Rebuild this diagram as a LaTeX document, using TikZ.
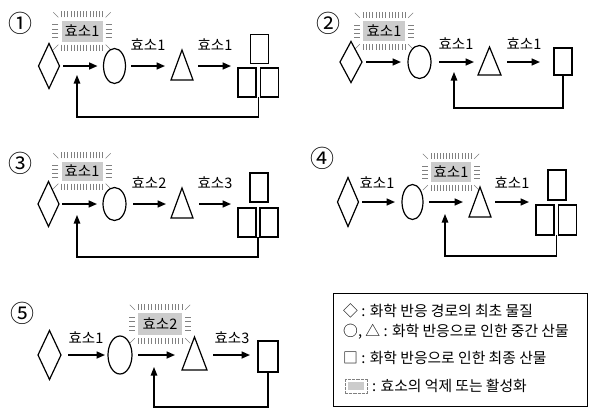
\documentclass[tikz,border=0pt]{standalone}
\usepackage{fontspec}
\newfontfamily\kr{Noto Sans CJK KR}
\usetikzlibrary{shapes.geometric,arrows.meta,calc}
\newcommand\glowticks[1]{%
  \foreach \i in {0,...,13}{%
    \draw[tick] ($(#1.north west)!\i/13!(#1.north east)+(0,-3)$) -- ++(0,-6);
    \draw[tick] ($(#1.south west)!\i/13!(#1.south east)+(0,3)$) -- ++(0,6);
  }
  \foreach \i in {1,...,4}{%
    \draw[tick] ($(#1.north west)!\i/5!(#1.south west)+(-3,0)$) -- ++(-6,0);
    \draw[tick] ($(#1.north east)!\i/5!(#1.south east)+(3,0)$) -- ++(6,0);
  }
  \draw[tick] ($(#1.north west)+(-3,-3)$) -- ++(-5,-5);
  \draw[tick] ($(#1.north east)+(3,-3)$) -- ++(5,-5);
  \draw[tick] ($(#1.south west)+(-3,3)$) -- ++(-5,5);
  \draw[tick] ($(#1.south east)+(3,3)$) -- ++(5,5);
}
\begin{document}
\begin{tikzpicture}[x=1pt,y=-1pt,
  shp/.style={draw,line width=1.2pt,inner sep=0pt,outer sep=0pt},
  dia/.style={shp,diamond},
  ell/.style={shp,ellipse},
  sq/.style={shp,rectangle},
  tri/.style={inner sep=0pt,outer sep=0pt},
  tridraw/.style={line width=1.2pt,line join=miter},
  arr/.style={line width=1.6pt,-{Triangle[length=8.5pt,width=7pt]}},
  fbk/.style={line width=1.1pt,-{Triangle[length=8.5pt,width=6.5pt]}},
  lab/.style={font=\kr\fontsize{14.5}{14.5}\selectfont,inner sep=0pt},
  num/.style={font=\kr\fontsize{24}{24}\selectfont,inner sep=0pt},
  glow/.style={fill=black!20,inner sep=0pt,font=\kr\fontsize{14.5}{14.5}\selectfont},
  tick/.style={draw=black!50,line width=0.6pt},
  leg/.style={font=\kr\fontsize{14.8}{14.8}\selectfont,inner sep=0pt},
]
\useasboundingbox (0,0) rectangle (589,408);

% ---------- panel 1 ----------
\node[num] (n1) at (21,23) {①};
\node[glow,minimum width=41pt,minimum height=21pt] (g1) at (82,31) {효소1};
\glowticks{g1}
\node[dia,minimum width=21pt,minimum height=45pt] (d1) at (49,66) {};
\node[ell,minimum width=22pt,minimum height=35pt] (o1) at (114.5,66) {};
\node[tri,minimum width=22pt,minimum height=30pt] (t1) at (182,65) {};
\draw[tridraw] (t1.north) -- (t1.south east) -- (t1.south west) -- cycle;
\node[lab] (e12) at (148,45) {효소1};
\node[lab] (e13) at (215,45) {효소1};
\node[sq,minimum width=18pt,minimum height=29pt] (s1a) at (259.5,49) {};
\node[sq,minimum width=18pt,minimum height=29pt] (s1b) at (247,82.5) {};
\node[sq,minimum width=18pt,minimum height=29pt] (s1c) at (269.5,82.5) {};
\draw[arr] ($(d1.east)+(3.5,0)$) -- ($(d1.east -| o1.west)+(-6,0)$);
\draw[arr] ($(o1.east)+(5.5,0)$) -- ($(o1.east -| t1.west)+(-6,0)$);
\draw[arr] ($(o1.east -| t1.east)+(5,0)$) -- ($(o1.east -| s1b.west)+(-7,0)$);
\coordinate (f1) at (77,75);
\draw[fbk] ($(s1b.south east)!0.5!(s1c.south west)$) -- ++(0,20) -| (f1);

% ---------- panel 2 ----------
\node[num] (n2) at (328,23) {②};
\node[glow,minimum width=42pt,minimum height=20pt] (g2) at (384,31) {효소1};
\glowticks{g2}
\node[dia,minimum width=22pt,minimum height=41pt] (d2) at (351,62) {};
\node[ell,minimum width=23pt,minimum height=33pt] (o2) at (419.5,62) {};
\node[tri,minimum width=23pt,minimum height=28pt] (t2) at (489.5,61) {};
\draw[tridraw] (t2.north) -- (t2.south east) -- (t2.south west) -- cycle;
\node[lab] (e22) at (456,44) {효소1};
\node[lab] (e23) at (524,44) {효소1};
\node[sq,minimum width=18pt,minimum height=27pt] (s2) at (563,61.5) {};
\draw[arr] ($(d2.east)+(4,0)$) -- ($(d2.east -| o2.west)+(-7,0)$);
\draw[arr] ($(o2.east)+(8,0)$) -- ($(o2.east -| t2.west)+(-4,0)$);
\draw[arr] ($(o2.east -| t2.east)+(6,0)$) -- ($(o2.east -| s2.west)+(-14,0)$);
\coordinate (f2) at (454,72);
\draw[fbk] (s2.south) -- ++(0,33) -| (f2);

% ---------- panel 3 ----------
\node[num] (n3) at (21,163) {③};
\node[glow,minimum width=41pt,minimum height=19pt] (g3) at (82,171) {효소1};
\glowticks{g3}
\node[dia,minimum width=21pt,minimum height=45pt] (d3) at (48.5,204) {};
\node[ell,minimum width=23pt,minimum height=33pt] (o3) at (114.5,204) {};
\node[tri,minimum width=22pt,minimum height=30pt] (t3) at (182,203) {};
\draw[tridraw] (t3.north) -- (t3.south east) -- (t3.south west) -- cycle;
\node[lab] (e32) at (149,183) {효소2};
\node[lab] (e33) at (215,183) {효소3};
\node[sq,minimum width=18pt,minimum height=29pt] (s3a) at (259,187.5) {};
\node[sq,minimum width=18pt,minimum height=29pt] (s3b) at (247,222.5) {};
\node[sq,minimum width=18pt,minimum height=29pt] (s3c) at (269,222.5) {};
\draw[arr] ($(d3.east)+(3,0)$) -- ($(d3.east -| o3.west)+(-6,0)$);
\draw[arr] ($(o3.east)+(7,0)$) -- ($(o3.east -| t3.west)+(-5,0)$);
\draw[arr] ($(o3.east -| t3.east)+(6,0)$) -- ($(o3.east -| s3b.west)+(-7,0)$);
\coordinate (f3) at (77,215);
\draw[fbk] ($(s3b.south east)!0.5!(s3c.south west)$) -- ++(0,20) -| (f3);

% ---------- panel 4 ----------
\node[num] (n4) at (322,158) {④};
\node[dia,minimum width=21pt,minimum height=49pt] (d4) at (348,202) {};
\node[lab] (e41) at (377,183) {효소1};
\node[ell,minimum width=21pt,minimum height=35pt] (o4) at (412.5,202) {};
\node[glow,minimum width=40pt,minimum height=20pt] (g4) at (451,172) {효소1};
\glowticks{g4}
\node[tri,minimum width=22pt,minimum height=30pt] (t4) at (480,202) {};
\draw[tridraw] (t4.north) -- (t4.south east) -- (t4.south west) -- cycle;
\node[lab] (e43) at (512,183) {효소1};
\node[sq,minimum width=18pt,minimum height=30pt] (s4a) at (557,185) {};
\node[sq,minimum width=18pt,minimum height=30pt] (s4b) at (545,220) {};
\node[sq,minimum width=18pt,minimum height=30pt] (s4c) at (567.5,220) {};
\draw[arr] ($(d4.east)+(3.5,0)$) -- ($(d4.east -| o4.west)+(-7,0)$);
\draw[arr] ($(o4.east)+(6,0)$) -- ($(o4.east -| t4.west)+(-6,0)$);
\draw[arr] ($(o4.east -| t4.east)+(4,0)$) -- ($(o4.east -| s4b.west)+(-7,0)$);
\coordinate (f4) at (445,214);
\draw[fbk] ($(s4b.south east)!0.5!(s4c.south west)$) -- ++(0,21) -| (f4);

% ---------- panel 5 ----------
\node[num] (n5) at (22,313) {⑤};
\node[dia,minimum width=23pt,minimum height=49pt] (d5) at (49.5,355) {};
\node[lab] (e51) at (86,338) {효소1};
\node[ell,minimum width=24pt,minimum height=38pt] (o5) at (120,355) {};
\node[glow,minimum width=44pt,minimum height=22pt] (g5) at (160,324) {효소2};
\glowticks{g5}
\node[tri,minimum width=25pt,minimum height=33pt] (t5) at (194.5,353.5) {};
\draw[tridraw] (t5.north) -- (t5.south east) -- (t5.south west) -- cycle;
\node[lab] (e53) at (232,338) {효소3};
\node[sq,minimum width=20pt,minimum height=31pt] (s5) at (268,356.5) {};
\draw[arr] ($(d5.east)+(7,0)$) -- ($(d5.east -| o5.west)+(-3,0)$);
\draw[arr] ($(o5.east)+(6,0)$) -- ($(o5.east -| t5.west)+(-7,0)$);
\draw[arr] ($(o5.east -| t5.east)+(6,0)$) -- ($(o5.east -| s5.west)+(-8,0)$);
\coordinate (f5) at (154,367);
\draw[fbk] (s5.south) -- ++(0,35) -| (f5);

% ---------- legend ----------
\node[draw,line width=1pt,minimum width=254pt,minimum height=113pt,inner sep=0pt] (leg) at (460,349.5) {};
\node[leg,anchor=west] (L1) at (343,311) {◇ : 화학 반응 경로의 최초 물질};
\node[leg,anchor=west] (L2) at (343,332) {○, △ : 화학 반응으로 인한 중간 산물};
\node[leg,anchor=west] (L3) at (343,358) {□ : 화학 반응으로 인한 최종 산물};
\node[fill=black!20,minimum width=16pt,minimum height=8pt,inner sep=0pt] (L4i) at (356,386) {};
\draw[black!50,line width=0.5pt,dash pattern=on 0.5pt off 0.8pt] ($(L4i.north west)+(-3,-3)$) rectangle ($(L4i.south east)+(3,3)$);
\node[leg,anchor=west] (L4) at (372,386) {: 효소의 억제 또는 활성화};
\end{tikzpicture}
\end{document}
